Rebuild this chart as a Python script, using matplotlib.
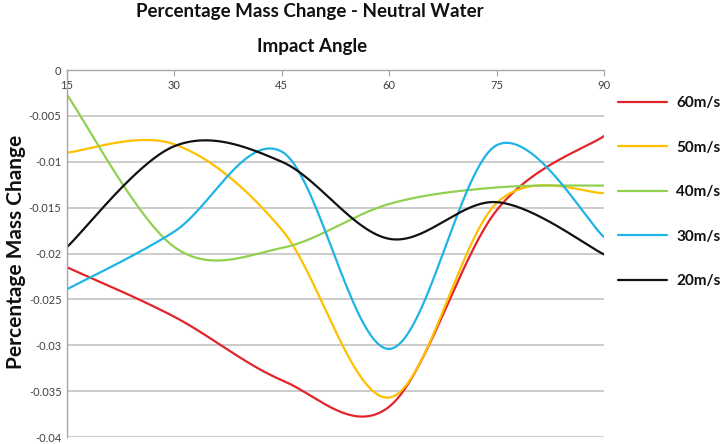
import numpy as np
import matplotlib
matplotlib.use("Agg")
import matplotlib.pyplot as plt

# ---- data ----
angles = [15, 30, 45, 60, 75, 90]
series_names = ["60m/s", "50m/s", "40m/s", "30m/s", "20m/s"]
v60 = [-0.0215, -0.0269, -0.0338, -0.0367, -0.0153, -0.0072]
v50 = [-0.0090, -0.0081, -0.0174, -0.0357, -0.0145, -0.0134]
v40 = [-0.0027, -0.0193, -0.0194, -0.0146, -0.0128, -0.0126]
v30 = [-0.0239, -0.0176, -0.0089, -0.0304, -0.0082, -0.0182]
v20 = [-0.0193, -0.0083, -0.0100, -0.0184, -0.0144, -0.0201]
colors = ["#E3242B", "#FFC000", "#92D050", "#1FB4E6", "#111111"]
xticks = [15, 30, 45, 60, 75, 90]
yticks = [0, -0.005, -0.01, -0.015, -0.02, -0.025, -0.03, -0.035, -0.04]
ytick_labels = ["0", "-0.005", "-0.01", "-0.015", "-0.02", "-0.025", "-0.03", "-0.035", "-0.04"]


def smooth(x, y, n=60):
    """Excel-like smoothed line: cubic Bezier segments with Catmull-Rom tangents."""
    P = np.column_stack([x, y]).astype(float)
    m = len(P)
    out = []
    for i in range(m - 1):
        p0 = P[i]
        p3 = P[i + 1]
        pm = P[i - 1] if i > 0 else P[i]
        pp = P[i + 2] if i + 2 < m else P[i + 1]
        c1 = p0 + (p3 - pm) / 6.0
        c2 = p3 - (pp - p0) / 6.0
        t = np.linspace(0, 1, n)[:, None]
        seg = ((1 - t) ** 3) * p0 + 3 * ((1 - t) ** 2) * t * c1 + 3 * (1 - t) * t ** 2 * c2 + t ** 3 * p3
        out.append(seg if i == 0 else seg[1:])
    out = np.vstack(out)
    return out[:, 0], out[:, 1]


plt.rcParams['font.family'] = ['Lato', 'DejaVu Sans']

fig = plt.figure(figsize=(7.23, 4.44), dpi=100)
ax = fig.add_axes([67 / 723, 1 - 437 / 444, (604 - 67) / 723, (437 - 70) / 444])

for name, vals, c in zip(series_names, [v60, v50, v40, v30, v20], colors):
    sx, sy = smooth(angles, vals)
    ax.plot(sx, sy, color=c, lw=1.6, label=name, solid_capstyle='round')

ax.set_xlim(15, 90)
ax.set_ylim(-0.04, 0)
ax.set_xticks(xticks)
ax.set_xticklabels([str(v) for v in xticks])
ax.set_yticks(yticks)
ax.set_yticklabels(ytick_labels)

ax.grid(axis='y', color='#c4c4c4', lw=1.2)
ax.set_axisbelow(True)
for s in ['right', 'bottom']:
    ax.spines[s].set_visible(False)
for s in ['left', 'top']:
    ax.spines[s].set_color('#a6a6a6')
    ax.spines[s].set_linewidth(1.0)

ax.xaxis.set_ticks_position('top')
ax.tick_params(axis='x', which='both', top=True, bottom=False, labeltop=True, labelbottom=False,
               direction='in', length=4, color='#a6a6a6', pad=-15, labelsize=8, labelcolor='#404040')
ax.tick_params(axis='y', direction='out', length=0, pad=4, labelsize=8, labelcolor='#404040')

fig.text(310 / 723, 1 - 11 / 444, "Percentage Mass Change - Neutral Water", ha='center', va='center',
         fontsize=13.5, fontweight='bold', color='#111111')
fig.text(312 / 723, 1 - 46 / 444, "Impact Angle", ha='center', va='center',
         fontsize=13.5, fontweight='bold', color='#111111')
fig.text(16 / 723, 1 - 252 / 444, "Percentage Mass Change", ha='center', va='center', rotation=90,
         fontsize=15, fontweight='bold', color='#111111')

leg = ax.legend(loc='upper left', bbox_to_anchor=(618 / 723, 1 - 96 / 444), bbox_transform=fig.transFigure,
                frameon=False, handlelength=3.2, handletextpad=0.6, labelspacing=2.0,
                borderpad=0, borderaxespad=0,
                prop={'weight': 'bold', 'size': 11})
for t in leg.get_texts():
    t.set_color('#111111')

fig.savefig("out.png", dpi=100)
